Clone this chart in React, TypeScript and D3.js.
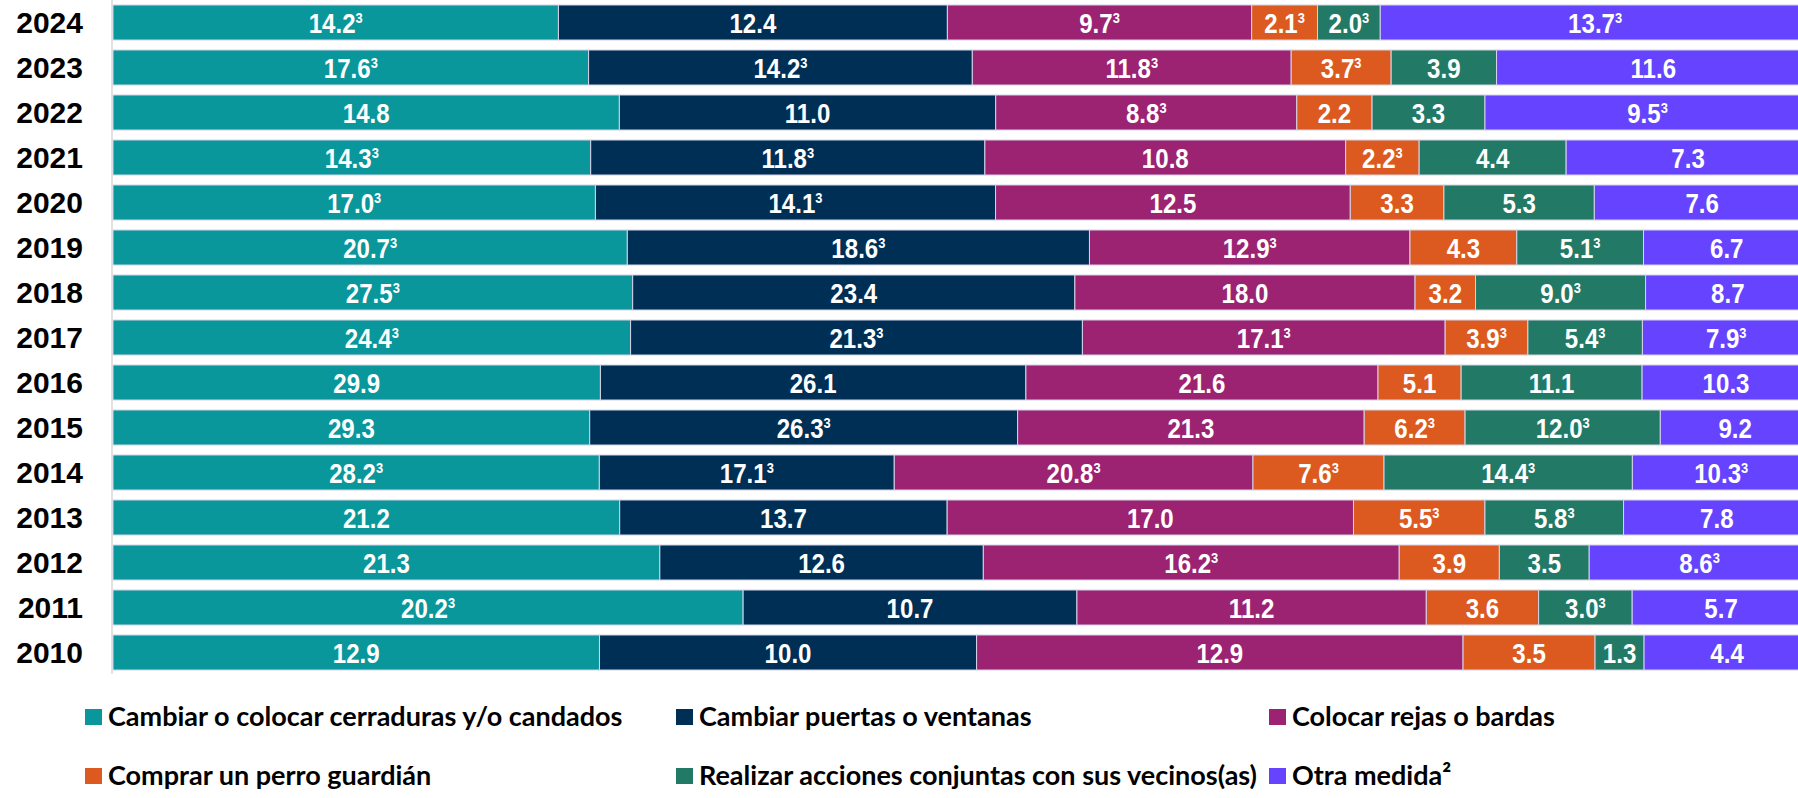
import React from 'react';
import * as d3 from 'd3';

// years, top to bottom
const years = ['2024', '2023', '2022', '2021', '2020', '2019', '2018', '2017', '2016', '2015', '2014', '2013', '2012', '2011', '2010'];

const seriesNames = [
  'Cambiar o colocar cerraduras y/o candados',
  'Cambiar puertas o ventanas',
  'Colocar rejas o bardas',
  'Comprar un perro guardián',
  'Realizar acciones conjuntas con sus vecinos(as)',
  'Otra medida²',
];

const colors = ['#0a979b', '#002f56', '#9c2372', '#dc5a20', '#227a66', '#6543ff'];

const cerraduras = [14.2, 17.6, 14.8, 14.3, 17.0, 20.7, 27.5, 24.4, 29.9, 29.3, 28.2, 21.2, 21.3, 20.2, 12.9];
const puertas = [12.4, 14.2, 11.0, 11.8, 14.1, 18.6, 23.4, 21.3, 26.1, 26.3, 17.1, 13.7, 12.6, 10.7, 10.0];
const rejas = [9.7, 11.8, 8.8, 10.8, 12.5, 12.9, 18.0, 17.1, 21.6, 21.3, 20.8, 17.0, 16.2, 11.2, 12.9];
const perro = [2.1, 3.7, 2.2, 2.2, 3.3, 4.3, 3.2, 3.9, 5.1, 6.2, 7.6, 5.5, 3.9, 3.6, 3.5];
const vecinos = [2.0, 3.9, 3.3, 4.4, 5.3, 5.1, 9.0, 5.4, 11.1, 12.0, 14.4, 5.8, 3.5, 3.0, 1.3];
const otra = [13.7, 11.6, 9.5, 7.3, 7.6, 6.7, 8.7, 7.9, 10.3, 9.2, 10.3, 7.8, 8.6, 5.7, 4.4];

// 1 = value carries the "³" note
const cerradurasNote = [1, 1, 0, 1, 1, 1, 1, 1, 0, 0, 1, 0, 0, 1, 0];
const puertasNote = [0, 1, 0, 1, 1, 1, 0, 1, 0, 1, 1, 0, 0, 0, 0];
const rejasNote = [1, 1, 1, 0, 0, 1, 0, 1, 0, 0, 1, 0, 1, 0, 0];
const perroNote = [1, 1, 0, 1, 0, 0, 0, 1, 0, 1, 1, 1, 0, 0, 0];
const vecinosNote = [1, 0, 0, 0, 0, 1, 1, 1, 0, 1, 1, 1, 0, 1, 0];
const otraNote = [1, 0, 1, 0, 0, 0, 0, 1, 0, 0, 1, 0, 1, 0, 0];

const values = [cerraduras, puertas, rejas, perro, vecinos, otra];
const notes = [cerradurasNote, puertasNote, rejasNote, perroNote, vecinosNote, otraNote];

const W = 1798;
const H = 798;

export default function App() {
  const keys = seriesNames.map((_, i) => 's' + i);
  const rows = years.map((y, r) => {
    const o: any = { year: y };
    keys.forEach((k, i) => (o[k] = values[i][r]));
    return o;
  });

  // every row is shown as shares of its own total
  const stacked = d3.stack().keys(keys).offset(d3.stackOffsetExpand)(rows);

  const x = d3.scaleLinear().domain([0, 1]).range([113, 113 + 1697]);
  const y = d3.scaleBand().domain(years).range([0, 675]).paddingInner(0.222).paddingOuter(0.111);

  const legendX = [85, 676, 1269];
  const legendY = [709, 768];

  return (
    <svg width={W} height={H} style={{ position: 'absolute', left: 0, top: 0 }}>
      <line x1={112} x2={112} y1={0} y2={674} stroke="#d9d9d9" strokeWidth={1.5} />

      {years.map(yr => (
        <text
          key={yr}
          x={83}
          y={(y(yr) as number) + y.bandwidth() / 2 + 10.5}
          textAnchor="end"
          fontFamily="'Liberation Sans', Arial, sans-serif"
          fontWeight="bold"
          fontSize={30}
          fill="#000"
        >
          {yr}
        </text>
      ))}

      {stacked.map((layer, si) => (
        <g key={layer.key}>
          {layer.map((d, r) => {
            const x0 = x(d[0]);
            const x1 = x(d[1]);
            const yy = y(years[r]) as number;
            const cx = (x0 + x1) / 2;
            const cy = yy + y.bandwidth() / 2 + 10;
            return (
              <g key={r}>
                <rect
                  x={x0}
                  y={yy}
                  width={x1 - x0}
                  height={y.bandwidth()}
                  fill={colors[si]}
                  stroke="#d4d4e8"
                  strokeWidth={1}
                />
                <text
                  transform={`translate(${cx},${cy}) scale(0.86,1)`}
                  textAnchor="middle"
                  fontFamily="'Liberation Sans', Arial, sans-serif"
                  fontWeight="bold"
                  fontSize={28}
                  fill="#fff"
                >
                  {values[si][r].toFixed(1)}
                  {notes[si][r] ? (
                    <tspan fontSize={15} dy={-10}>
                      3
                    </tspan>
                  ) : null}
                </text>
              </g>
            );
          })}
        </g>
      ))}

      {seriesNames.map((name, i) => {
        const col = i % 3;
        const row = Math.floor(i / 3);
        return (
          <g key={name} transform={`translate(${legendX[col]},${legendY[row]})`}>
            <rect x={0} y={0} width={17} height={16} fill={colors[i]} />
            <text
              x={23}
              y={17}
              fontFamily="Lato, 'Open Sans', sans-serif"
              fontWeight="bold"
              fontSize={27}
              fill="#000"
            >
              {name}
            </text>
          </g>
        );
      })}
    </svg>
  );
}
